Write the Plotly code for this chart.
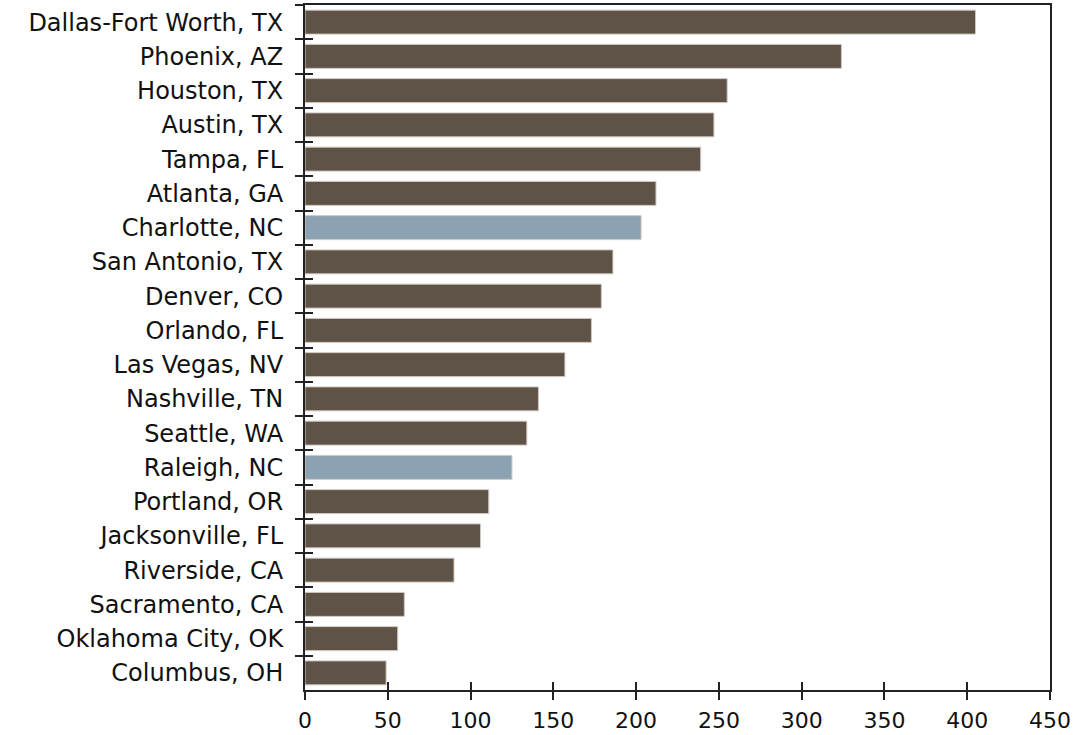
import plotly.graph_objects as go

# Metro areas, top to bottom
metros = [
    "Dallas-Fort Worth, TX", "Phoenix, AZ", "Houston, TX", "Austin, TX",
    "Tampa, FL", "Atlanta, GA", "Charlotte, NC", "San Antonio, TX",
    "Denver, CO", "Orlando, FL", "Las Vegas, NV", "Nashville, TN",
    "Seattle, WA", "Raleigh, NC", "Portland, OR", "Jacksonville, FL",
    "Riverside, CA", "Sacramento, CA", "Oklahoma City, OK", "Columbus, OH",
]
values = [405, 324, 255, 247, 239, 212, 203, 186, 179, 173,
          157, 141, 134, 125, 111, 106, 90, 60, 56, 49]
highlighted = {"Charlotte, NC", "Raleigh, NC"}

x_ticks = [0, 50, 100, 150, 200, 250, 300, 350, 400, 450]

BROWN = "#5E5346"
BLUE = "#8AA2B1"
colors = [BLUE if m in highlighted else BROWN for m in metros]

fig = go.Figure()
fig.add_trace(go.Bar(
    x=values, y=metros, orientation="h",
    marker=dict(color=colors, line=dict(color="#CFC8C0", width=1)),
    width=0.7, showlegend=False, hoverinfo="x+y",
))
# invisible trace tying the secondary axes (inward tick marks) to the same scales
fig.add_trace(go.Scatter(
    x=[None] * len(metros), y=metros, xaxis="x2", yaxis="y2",
    mode="markers", showlegend=False, hoverinfo="skip",
))

font = dict(family="DejaVu Sans, Verdana, sans-serif", size=24, color="#111111")
xfont = dict(family="DejaVu Sans, Verdana, sans-serif", size=22, color="#111111")

fig.update_layout(
    width=1082, height=735,
    margin=dict(l=305, r=32, t=5, b=45),
    plot_bgcolor="white", paper_bgcolor="white",
    font=font,
    xaxis=dict(
        range=[0, 450], tickvals=x_ticks, ticks="outside", ticklen=8,
        tickcolor="#222", tickwidth=1.5, showgrid=False, zeroline=False,
        showline=True, linecolor="#222", linewidth=2, mirror=True,
        tickfont=xfont, ticklabelstandoff=2, automargin=False,
    ),
    xaxis2=dict(
        range=[0, 450], tickvals=x_ticks, ticks="inside", ticklen=8,
        tickcolor="#222", tickwidth=1.5, showticklabels=False,
        showgrid=False, zeroline=False, showline=False,
        overlaying="x", side="bottom", automargin=False,
    ),
    yaxis=dict(
        categoryorder="array", categoryarray=metros,
        range=[len(metros) - 0.5, -0.5], tickson="boundaries",
        ticks="outside", ticklen=8, tickcolor="#222", tickwidth=1.5,
        showgrid=False, zeroline=False, showline=True, linecolor="#222",
        linewidth=2, mirror=True, tickfont=font, ticklabelstandoff=15,
        automargin=False,
    ),
    yaxis2=dict(
        categoryorder="array", categoryarray=metros,
        range=[len(metros) - 0.5, -0.5], tickson="boundaries",
        ticks="inside", ticklen=8, tickcolor="#222", tickwidth=1.5,
        showticklabels=False, showgrid=False, zeroline=False,
        showline=False, overlaying="y", side="left", automargin=False,
    ),
)

fig.write_html("out.html")
